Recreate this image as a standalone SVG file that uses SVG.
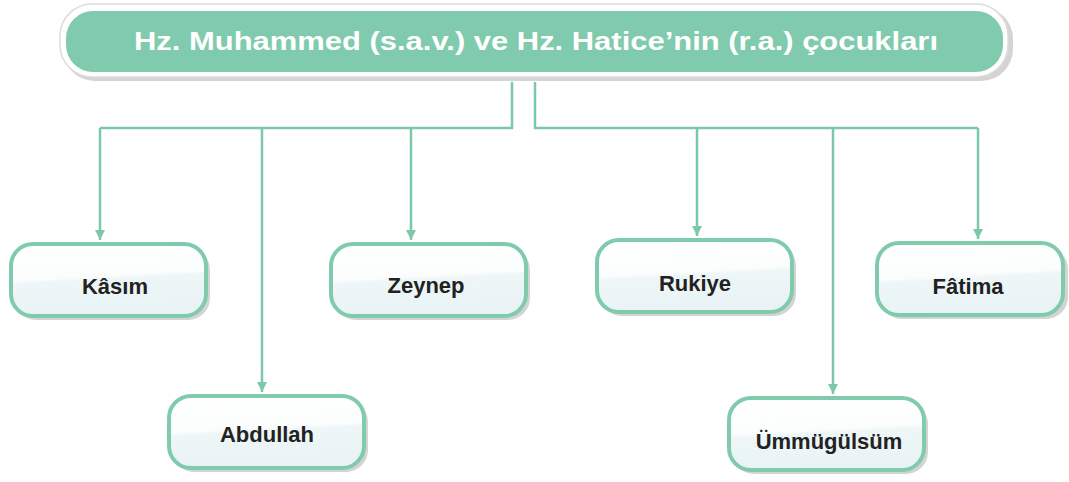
<svg xmlns="http://www.w3.org/2000/svg" width="1069" height="482" viewBox="0 0 1069 482">
<defs>
<linearGradient id="nf" x1="0" y1="0" x2="0.15" y2="1">
<stop offset="0" stop-color="#ffffff"/>
<stop offset="0.5" stop-color="#fbfdfd"/>
<stop offset="0.55" stop-color="#eef6f7"/>
<stop offset="1" stop-color="#e9f3f5"/>
</linearGradient>
<marker id="ah" viewBox="0 0 10 10" refX="10" refY="5" markerWidth="4" markerHeight="4" orient="auto" markerUnits="strokeWidth">
<path d="M0,0 L10,5 L0,10 z" fill="#7cc9a9"/>
</marker>
</defs>
<style>
.sh{fill:#d4d4d4;}
.nb{fill:url(#nf);stroke:#7fcbac;stroke-width:4;}
.nt{font-family:"Liberation Sans",Arial,sans-serif;font-weight:bold;font-size:22px;fill:#222;text-anchor:middle;}
.cn{fill:none;stroke:#7cc9a9;stroke-width:2.5;}
</style>
<rect width="1069" height="482" fill="#ffffff"/>
<g id="root">
<rect x="63" y="7" width="950" height="74" rx="32" class="sh"/>
<rect x="60" y="4" width="948" height="73" rx="32" fill="#ffffff" stroke="#dcdcdc" stroke-width="1.5"/>
<rect x="66" y="11" width="937" height="61" rx="27" fill="#80cbad"/>
<text x="536" y="50" font-family="'Liberation Sans',Arial,sans-serif" font-weight="bold" font-size="25" fill="#ffffff" text-anchor="middle" textLength="804" lengthAdjust="spacingAndGlyphs">Hz. Muhammed (s.a.v.) ve Hz. Hatice’nin (r.a.) çocukları</text>
</g>
<g id="connectors">
<path class="cn" d="M512,82 V128 H100"/>
<path class="cn" d="M535,82 V128 H978"/>
<path class="cn" d="M100,128 V240" marker-end="url(#ah)"/>
<path class="cn" d="M262,128 V392" marker-end="url(#ah)"/>
<path class="cn" d="M411,128 V240" marker-end="url(#ah)"/>
<path class="cn" d="M697,128 V236" marker-end="url(#ah)"/>
<path class="cn" d="M833,128 V394" marker-end="url(#ah)"/>
<path class="cn" d="M978,128 V239" marker-end="url(#ah)"/>
</g>
<g id="kasim">
<rect x="14" y="248" width="196" height="72" rx="22" class="sh"/>
<rect x="11" y="244" width="195" height="72" rx="22" class="nb"/>
<text x="115" y="294" class="nt">Kâsım</text>
</g>
<g id="abdullah">
<rect x="172" y="400" width="196" height="72" rx="22" class="sh"/>
<rect x="169" y="396" width="195" height="72" rx="22" class="nb"/>
<text x="267" y="442" class="nt">Abdullah</text>
</g>
<g id="zeynep">
<rect x="334" y="248" width="196" height="72" rx="22" class="sh"/>
<rect x="331" y="244" width="195" height="72" rx="22" class="nb"/>
<text x="426" y="293" class="nt">Zeynep</text>
</g>
<g id="rukiye">
<rect x="600" y="244" width="196" height="72" rx="22" class="sh"/>
<rect x="597" y="240" width="195" height="72" rx="22" class="nb"/>
<text x="695" y="291" class="nt">Rukiye</text>
</g>
<g id="ummugulsum">
<rect x="732" y="402" width="196" height="72" rx="22" class="sh"/>
<rect x="729" y="398" width="195" height="72" rx="22" class="nb"/>
<text x="829" y="449" class="nt">Ümmügülsüm</text>
</g>
<g id="fatima">
<rect x="880" y="247" width="188" height="72" rx="22" class="sh"/>
<rect x="877" y="243" width="186" height="72" rx="22" class="nb"/>
<text x="968" y="294" class="nt">Fâtima</text>
</g>
</svg>
